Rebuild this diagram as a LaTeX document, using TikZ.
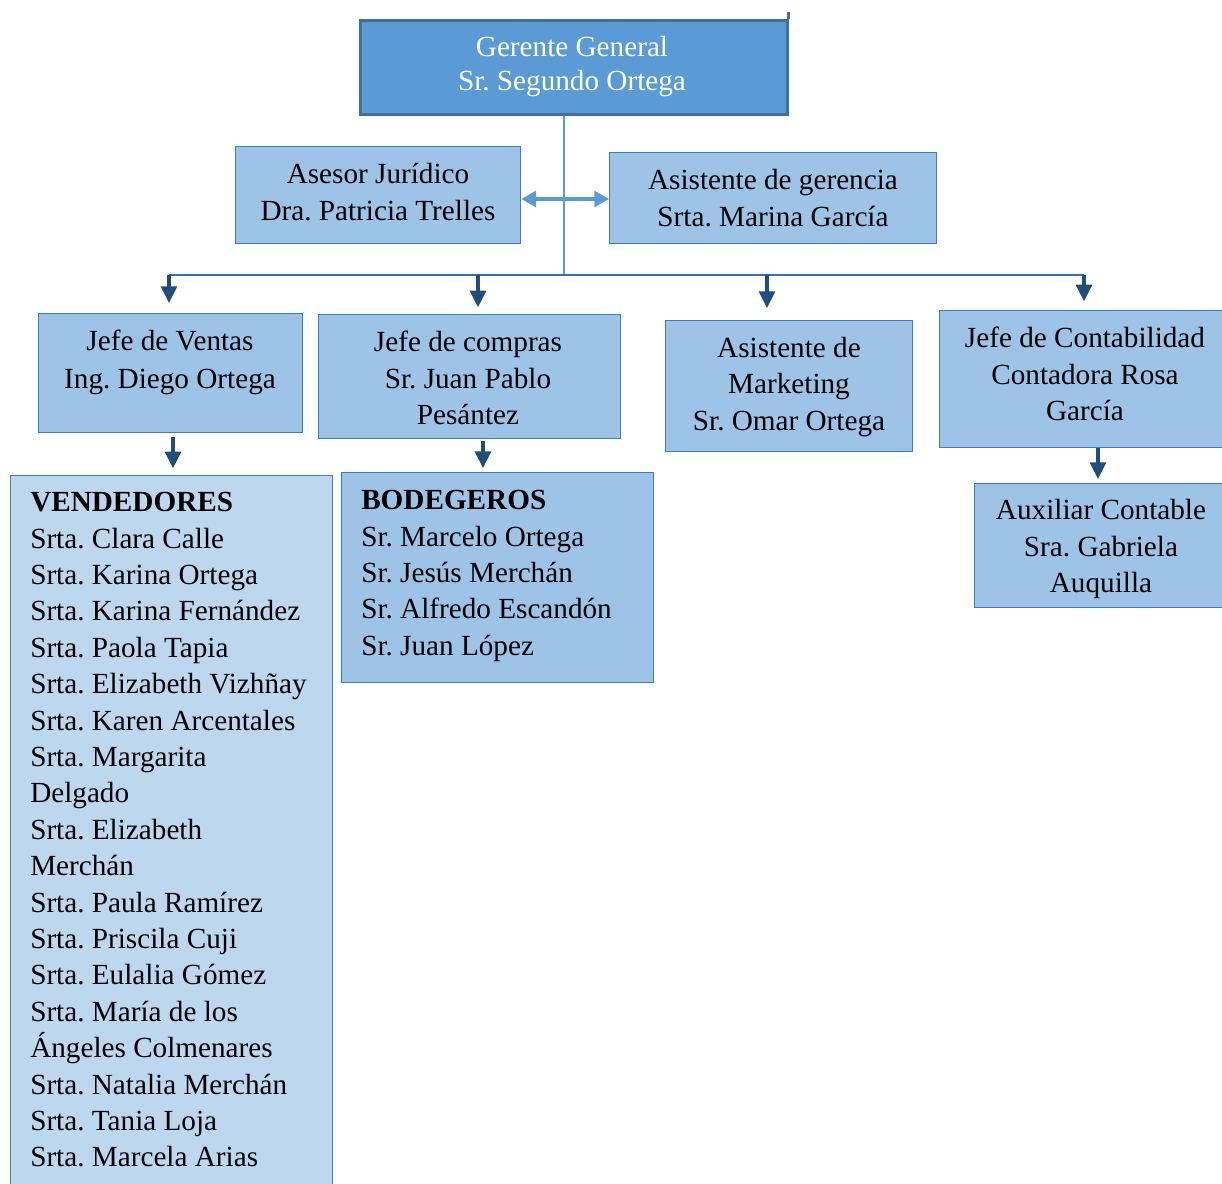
\documentclass[tikz,border=0pt]{standalone}
\usepackage{fontspec}
\setmainfont{Liberation Serif}
\usetikzlibrary{arrows.meta}
\definecolor{gfill}{HTML}{5B9BD5}
\definecolor{gbord}{HTML}{41719C}
\definecolor{bfill}{HTML}{9DC3E6}
\definecolor{bbord}{HTML}{3A7DC2}
\definecolor{lfill}{HTML}{BDD7EE}
\definecolor{busc}{HTML}{2E75B6}
\definecolor{darkar}{HTML}{1F4E79}
\definecolor{lightln}{HTML}{5B9BD5}
\frenchspacing
\tikzset{
  boxstyle/.style={draw=bbord, line width=1pt, fill=bfill, rectangle, inner sep=0pt, anchor=north west},
  topbox/.style={draw=gbord, line width=2pt, fill=gfill, rectangle, inner sep=0pt, anchor=north west},
  listbox/.style={draw=bbord, line width=1pt, fill=lfill, rectangle, inner sep=0pt, anchor=north west},
  txt/.style={inner sep=0pt, align=center, font=\fontsize{21.9}{27.3}\selectfont},
  listtxt/.style={inner sep=0pt, align=left, anchor=north west, font=\fontsize{21.9}{27.3}\selectfont},
  darr/.style={draw=darkar, line width=2.3pt, -{Triangle[length=12.5pt,width=12pt]}},
  dblarr/.style={draw=lightln, line width=2.3pt, {Triangle[length=11pt,width=12pt]}-{Triangle[length=11pt,width=12pt]}},
  busline/.style={draw=busc, line width=1.4pt},
  vline/.style={draw=lightln, line width=1pt}
}
\begin{document}
\begin{tikzpicture}[x=0.75pt,y=-0.75pt]
\useasboundingbox (0,0) rectangle (1222,1184);
\clip (0,0) rectangle (1222,1184);

% boxes
\node[topbox, minimum width=427*0.75pt, minimum height=94*0.75pt] (gerente) at (359,19) {};
\node[boxstyle, minimum width=285*0.75pt, minimum height=97*0.75pt] (asesor) at (235,146) {};
\node[boxstyle, minimum width=327*0.75pt, minimum height=91*0.75pt] (asist) at (609,152) {};
\node[boxstyle, minimum width=264*0.75pt, minimum height=119*0.75pt] (ventas) at (38,313) {};
\node[boxstyle, minimum width=302*0.75pt, minimum height=124*0.75pt] (compras) at (318,314) {};
\node[boxstyle, minimum width=247*0.75pt, minimum height=131*0.75pt] (mkt) at (665,320) {};
\node[boxstyle, minimum width=291*0.75pt, minimum height=137*0.75pt] (contab) at (939,310) {};
\node[boxstyle, minimum width=256*0.75pt, minimum height=124*0.75pt] (aux) at (974,483) {};
\node[listbox, minimum width=322*0.75pt, minimum height=720*0.75pt] (vend) at (10,475) {};
\node[boxstyle, minimum width=312*0.75pt, minimum height=210*0.75pt] (bodeg) at (341,472) {};

% small tick at top right of the top box
\draw[draw=gbord, line width=2pt] (gerente.north east) -- ++(0,-7);

% texts
\node[txt, text=white, font=\fontsize{21.9}{25.5}\selectfont] (t-gerente) at (572,67) {Gerente General\\Sr. Segundo Ortega};
\node[txt] (t-asesor) at (378,192) {Asesor Jurídico\\Dra. Patricia Trelles};
\node[txt] (t-asist) at (773,198) {Asistente de gerencia\\Srta. Marina García};
\node[txt, font=\fontsize{21.9}{28.5}\selectfont] (t-ventas) at (170,362) {Jefe de Ventas\\Ing. Diego Ortega};
\node[txt] (t-compras) at (468,378) {Jefe de compras\\Sr. Juan Pablo\\Pesántez};
\node[txt] (t-mkt) at (789,387) {Asistente de\\Marketing\\Sr. Omar Ortega};
\node[txt] (t-contab) at (1085,374) {Jefe de Contabilidad\\Contadora Rosa\\García};
\node[txt] (t-aux) at (1101,549) {Auxiliar Contable\\Sra. Gabriela\\Auquilla};
\node[listtxt] (t-vend) at (30,492) {\textbf{VENDEDORES}\\Srta. Clara Calle\\Srta. Karina Ortega\\Srta. Karina Fernández\\Srta. Paola Tapia\\Srta. Elizabeth Vizhñay\\Srta. Karen Arcentales\\Srta. Margarita\\Delgado\\Srta. Elizabeth\\Merchán\\Srta. Paula Ramírez\\Srta. Priscila Cuji\\Srta. Eulalia Gómez\\Srta. María de los\\Ángeles Colmenares\\Srta. Natalia Merchán\\Srta. Tania Loja\\Srta. Marcela Arias};
\node[listtxt] (t-bodeg) at (361,490) {\textbf{BODEGEROS}\\Sr. Marcelo Ortega\\Sr. Jesús Merchán\\Sr. Alfredo Escandón\\Sr. Juan López};

% connectors
\coordinate (bc) at (564,276);
\coordinate (b1) at (169,275);
\coordinate (b2) at (478,275);
\coordinate (b3) at (767,275);
\coordinate (b4) at (1084,275);
\coordinate (ya) at (0,199);
\coordinate (v1) at (173,0);
\coordinate (v2) at (483,0);
\coordinate (v3) at (1098,0);

\draw[vline] (gerente.south -| bc) -- (bc);
\draw[dblarr] (asesor.east |- ya) -- (asist.west |- ya);
\draw[busline] (b1) -- (b4);
\draw[darr, shorten >=7.5pt] (b1) -- (b1 |- ventas.north);
\draw[darr, shorten >=5pt] (b2) -- (b2 |- compras.north);
\draw[darr, shorten >=9pt] (b3) -- (b3 |- mkt.north);
\draw[darr, shorten >=6.5pt] (b4) -- (b4 |- contab.north);
\draw[darr, shorten <=3pt, shorten >=5pt] (ventas.south -| v1) -- (vend.north -| v1);
\draw[darr, shorten <=1.5pt, shorten >=3pt] (compras.south -| v2) -- (bodeg.north -| v2);
\draw[darr, shorten >=3pt] (contab.south -| v3) -- (aux.north -| v3);
\end{tikzpicture}
\end{document}
